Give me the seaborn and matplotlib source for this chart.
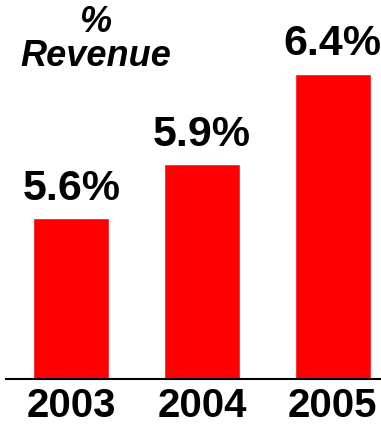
import matplotlib
matplotlib.use("Agg")
import matplotlib.pyplot as plt
import seaborn as sns
import pandas as pd

years = ["2003", "2004", "2005"]
revenue_pct = [5.6, 5.9, 6.4]
value_labels = ["5.6%", "5.9%", "6.4%"]

sns.set_theme(style="white")
plt.rcParams["font.family"] = ["Liberation Sans", "DejaVu Sans"]

df = pd.DataFrame({"year": years, "pct": revenue_pct})

W, H = 381, 429
fig = plt.figure(figsize=(W / 100, H / 100), dpi=100)
ax = fig.add_axes([6 / W, (H - 379) / H, (W - 6) / W, 379 / H])

sns.barplot(data=df, x="year", y="pct", color="#ff0000", saturation=1,
            width=0.58, ax=ax)

ax.set_ylim(4.71, 6.81)
ax.set_xlim(-0.5, 2.37)

for i, (v, lab) in enumerate(zip(revenue_pct, value_labels)):
    ax.annotate(lab, (i, v), xytext=(0, 7), textcoords="offset points",
                ha="center", va="bottom", fontsize=31, fontweight="bold",
                color="black")

for s in ["top", "right", "left"]:
    ax.spines[s].set_visible(False)
ax.spines["bottom"].set_color("black")
ax.spines["bottom"].set_linewidth(1.5)
ax.set_yticks([])
ax.set_xlabel("")
ax.set_ylabel("")
ax.tick_params(axis="x", length=0, pad=6, labelsize=29, labelcolor="black")
for t in ax.get_xticklabels():
    t.set_fontweight("bold")

fig.text(95 / W, 1 - 22 / H, "%", ha="center", va="center",
         fontsize=26, fontweight="bold", style="italic", color="black")
fig.text(96 / W, 1 - 57 / H, "Revenue", ha="center", va="center",
         fontsize=26, fontweight="bold", style="italic", color="black")

fig.savefig("out.png", dpi=100, facecolor="white")
